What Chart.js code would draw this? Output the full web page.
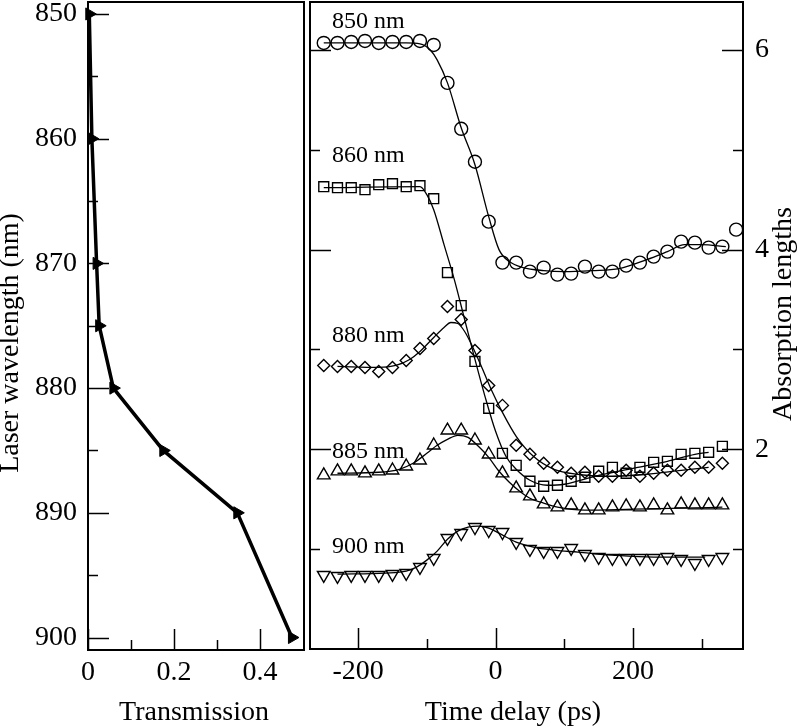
<!DOCTYPE html>
<html>
<head>
<meta charset="utf-8">
<script src="https://cdn.jsdelivr.net/npm/chart.js@4.4.0/dist/chart.umd.min.js"></script>
<style>
  body { margin: 0; background: #fff; width: 800px; height: 728px; position: relative; overflow: hidden; }
  canvas { position: absolute; top: 0; }
  #left { left: 0; }
  #right { left: 305px; }
</style>
</head>
<body>
<canvas id="left" width="308" height="728"></canvas>
<canvas id="right" width="495" height="728"></canvas>
<script>
// ---- left panel: transmission vs laser wavelength
const wavelengths = [850, 860, 870, 875, 880, 885, 890, 900];
const transmission = [0.003, 0.009, 0.02, 0.026, 0.059, 0.175, 0.347, 0.474];
const wlTicks = [850, 860, 870, 880, 890, 900];
const wlMinor = [855, 865, 875, 885, 895];
const trTicks = [0, 0.2, 0.4];
const trMinor = [0.1, 0.3];

// ---- right panel: measured points every 20 ps
const delays = [-250, -230, -210, -190, -170, -150, -130, -110, -90, -70, -50, -30, -10, 10, 30,
  50, 70, 90, 110, 130, 150, 170, 190, 210, 230, 250, 270, 290, 310, 330, 350];
const abs850 = [6.07, 6.07, 6.08, 6.09, 6.07, 6.08, 6.08, 6.09, 6.05, 5.67, 5.21, 4.88, 4.28, 3.87, 3.87,
  3.78, 3.82, 3.75, 3.76, 3.83, 3.78, 3.78, 3.84, 3.87, 3.93, 3.98, 4.08, 4.07, 4.02, 4.03, 4.2];
const abs860 = [4.63, 4.62, 4.62, 4.60, 4.65, 4.66, 4.63, 4.64, 4.51, 3.77, 3.44, 2.88, 2.41, 1.96, 1.84,
  1.68, 1.63, 1.64, 1.68, 1.72, 1.78, 1.82, 1.76, 1.82, 1.87, 1.88, 1.95, 1.96, 1.97, 2.03];
const abs880 = [2.84, 2.83, 2.83, 2.82, 2.78, 2.82, 2.89, 3.01, 3.11, 3.43, 3.30, 2.99, 2.64, 2.44, 2.04,
  1.95, 1.86, 1.82, 1.76, 1.77, 1.73, 1.73, 1.79, 1.73, 1.76, 1.79, 1.79, 1.82, 1.82, 1.86];
const abs885 = [1.74, 1.78, 1.78, 1.76, 1.78, 1.79, 1.83, 1.89, 2.04, 2.19, 2.19, 2.09, 1.95, 1.76, 1.61,
  1.53, 1.45, 1.42, 1.44, 1.39, 1.39, 1.42, 1.43, 1.42, 1.44, 1.39, 1.45, 1.44, 1.44, 1.44];
const abs900 = [0.74, 0.73, 0.74, 0.74, 0.74, 0.75, 0.76, 0.82, 0.91, 1.11, 1.16, 1.22, 1.19, 1.17, 1.07,
  1.00, 0.98, 0.98, 1.01, 0.95, 0.92, 0.91, 0.91, 0.91, 0.91, 0.92, 0.90, 0.86, 0.90, 0.92];

// ---- right panel: fitted curves
const fit850T = [-250, -130, -110, -95, -85, -70, -50, -30, -10, 5, 20, 40, 70, 100, 140, 180, 220, 250, 275, 300, 335];
const fit850Y = [6.07, 6.07, 6.06, 6.0, 5.9, 5.67, 5.22, 4.85, 4.33, 4.0, 3.88, 3.82, 3.79, 3.78, 3.79, 3.81, 3.9, 3.98, 4.05, 4.05, 4.03];
const fit860T = [-250, -110, -100, -90, -75, -60, -45, -30, -15, 0, 15, 30, 50, 75, 100, 150, 200, 250, 290, 310];
const fit860Y = [4.62, 4.63, 4.55, 4.4, 4.05, 3.7, 3.3, 2.9, 2.52, 2.18, 1.93, 1.8, 1.69, 1.64, 1.65, 1.74, 1.81, 1.88, 1.95, 1.97];
const fit880T = [-230, -170, -145, -125, -110, -90, -75, -65, -55, -45, -33, -20, -5, 10, 30, 55, 85, 120, 170, 220, 270, 310];
const fit880Y = [2.83, 2.82, 2.84, 2.9, 2.98, 3.12, 3.22, 3.27, 3.26, 3.18, 3.02, 2.82, 2.58, 2.37, 2.13, 1.93, 1.8, 1.75, 1.73, 1.75, 1.79, 1.82];
const fit885T = [-230, -170, -140, -120, -100, -85, -70, -55, -40, -25, -10, 5, 20, 35, 50, 70, 90, 130, 200, 270, 330];
const fit885Y = [1.76, 1.77, 1.8, 1.86, 1.96, 2.04, 2.1, 2.14, 2.12, 2.03, 1.92, 1.78, 1.67, 1.58, 1.51, 1.46, 1.42, 1.39, 1.4, 1.41, 1.42];
const fit900T = [-230, -160, -130, -115, -100, -85, -70, -55, -40, -25, -10, 5, 30, 55, 85, 120, 170, 230, 305];
const fit900Y = [0.75, 0.76, 0.78, 0.82, 0.89, 0.98, 1.1, 1.18, 1.22, 1.23, 1.21, 1.16, 1.07, 1.02, 0.99, 0.97, 0.94, 0.92, 0.92];

const delayTicks = [-200, 0, 200];
const delayMinor = [-100, 100, 300];
const absTicks = [2, 4, 6];
const absMinor = [1, 3, 5];

const seriesNames = ['850 nm', '860 nm', '880 nm', '885 nm', '900 nm'];

const FONT = '"Liberation Serif", "Times New Roman", serif';

// frame, inward ticks, titles and curve labels
const frame = {
  id: 'frame',
  afterDraw(chart, args, opts) {
    const { ctx, chartArea: a } = chart;
    ctx.save();
    ctx.strokeStyle = '#000';
    ctx.lineWidth = 2;
    ctx.strokeRect(a.left, a.top, a.right - a.left, a.bottom - a.top);
    ctx.lineWidth = 1.5;
    opts.ticks.forEach(t => {
      const scale = chart.scales[t.scale];
      const mark = (v, len) => {
        const p = Math.round(scale.getPixelForValue(v)) + 0.5;
        ctx.beginPath();
        if (t.edge === 'bottom') { ctx.moveTo(p, a.bottom); ctx.lineTo(p, a.bottom - len); }
        else if (t.edge === 'left') { ctx.moveTo(a.left, p); ctx.lineTo(a.left + len, p); }
        else { ctx.moveTo(a.right, p); ctx.lineTo(a.right - len, p); }
        ctx.stroke();
      };
      t.major.forEach(v => mark(v, 21));
      t.minor.forEach(v => mark(v, 10));
    });
    ctx.fillStyle = '#000';
    ctx.font = '28px ' + FONT;
    ctx.textAlign = 'center';
    ctx.textBaseline = 'middle';
    opts.titles.forEach(t => {
      ctx.save();
      ctx.translate(t.x, t.y);
      if (t.rotate) ctx.rotate(-Math.PI / 2);
      ctx.fillText(t.text, 0, 0);
      ctx.restore();
    });
    if (opts.notes) {
      ctx.font = '24px ' + FONT;
      ctx.textAlign = 'left';
      ctx.textBaseline = 'alphabetic';
      opts.notes.forEach(n => {
        ctx.fillText(n.text, chart.scales.x.getPixelForValue(n.t), chart.scales.y.getPixelForValue(n.v));
      });
    }
    ctx.restore();
  }
};

const tickFont = { family: FONT, size: 28 };
const fixed = list => scale => { scale.ticks = list.map(v => ({ value: v })); };
// fixed box size, and no extra room for the end labels
const boxSize = (w, h) => s => {
  if (w) s.width = w;
  if (h) s.height = h;
  s.paddingTop = s.paddingBottom = s.paddingLeft = s.paddingRight = 0;
};

new Chart(document.getElementById('left'), {
  type: 'scatter',
  data: {
    datasets: [{
      data: wavelengths.map((w, i) => ({ x: transmission[i], y: w })),
      showLine: true,
      borderColor: '#000',
      borderWidth: 3.5,
      pointStyle: 'triangle',
      pointRotation: 90,
      pointRadius: 7,
      pointBackgroundColor: '#000',
      pointBorderColor: '#000',
      pointBorderWidth: 1,
      clip: false
    }]
  },
  options: {
    responsive: false,
    animation: false,
    events: [],
    layout: { autoPadding: false, padding: { top: 2, right: 4, left: 0, bottom: 0 } },
    plugins: {
      legend: { display: false },
      tooltip: { enabled: false },
      frame: {
        ticks: [
          { scale: 'y', edge: 'left', major: wlTicks, minor: wlMinor },
          { scale: 'x', edge: 'bottom', major: trTicks, minor: trMinor }
        ],
        titles: [
          { text: 'Laser wavelength (nm)', x: 11, y: 343, rotate: true },
          { text: 'Transmission', x: 194, y: 713 }
        ]
      }
    },
    scales: {
      x: {
        type: 'linear', min: 0, max: 0.502,
        grid: { display: false, drawTicks: false }, border: { display: false },
        afterBuildTicks: fixed(trTicks),
        afterFit: boxSize(0, 78),
        ticks: { font: tickFont, color: '#000', padding: 6, maxRotation: 0, autoSkip: false, callback: v => String(v) }
      },
      y: {
        type: 'linear', reverse: true, min: 849.04, max: 901,
        grid: { display: false, drawTicks: false }, border: { display: false },
        afterBuildTicks: fixed(wlTicks),
        afterFit: boxSize(88, 0),
        ticks: { font: tickFont, color: '#000', padding: 11, autoSkip: false, callback: v => String(v) }
      }
    }
  },
  plugins: [frame]
});

const markers = (vals, style, radius, rot) => ({
  data: vals.map((v, i) => ({ x: delays[i], y: v })),
  showLine: false,
  pointStyle: style,
  pointRadius: radius,
  pointRotation: rot || 0,
  pointBackgroundColor: 'rgba(0,0,0,0)',
  pointBorderColor: '#000',
  pointBorderWidth: 1.4,
  clip: false
});
const fit = (ts, ys) => ({
  data: ts.map((t, i) => ({ x: t, y: ys[i] })),
  showLine: true,
  borderColor: '#000',
  borderWidth: 1.3,
  pointRadius: 0,
  cubicInterpolationMode: 'monotone'
});

new Chart(document.getElementById('right'), {
  type: 'scatter',
  data: {
    datasets: [
      fit(fit850T, fit850Y), fit(fit860T, fit860Y), fit(fit880T, fit880Y),
      fit(fit885T, fit885Y), fit(fit900T, fit900Y),
      markers(abs850, 'circle', 6.5),
      markers(abs860, 'rect', 7),
      markers(abs880, 'rectRot', 6),
      markers(abs885, 'triangle', 7.3),
      markers(abs900, 'triangle', 7.3, 180)
    ]
  },
  options: {
    responsive: false,
    animation: false,
    events: [],
    layout: { autoPadding: false, padding: { top: 2, right: 0, left: 5, bottom: 0 } },
    plugins: {
      legend: { display: false },
      tooltip: { enabled: false },
      frame: {
        ticks: [
          { scale: 'y', edge: 'right', major: absTicks, minor: absMinor },
          { scale: 'y', edge: 'left', major: absTicks, minor: absMinor },
          { scale: 'x', edge: 'bottom', major: delayTicks, minor: delayMinor }
        ],
        titles: [
          { text: 'Absorption lengths', x: 479, y: 314, rotate: true },
          { text: 'Time delay (ps)', x: 208, y: 713 }
        ],
        notes: [
          { text: seriesNames[0], t: -238, v: 6.22 },
          { text: seriesNames[1], t: -238, v: 4.88 },
          { text: seriesNames[2], t: -238, v: 3.07 },
          { text: seriesNames[3], t: -238, v: 1.91 },
          { text: seriesNames[4], t: -238, v: 0.96 }
        ]
      }
    },
    scales: {
      x: {
        type: 'linear', min: -270, max: 360,
        grid: { display: false, drawTicks: false }, border: { display: false },
        afterBuildTicks: fixed(delayTicks),
        afterFit: boxSize(0, 79),
        ticks: { font: tickFont, color: '#000', padding: 6, maxRotation: 0, autoSkip: false, callback: v => String(v) }
      },
      y: {
        type: 'linear', position: 'right', min: 0, max: 6.48,
        grid: { display: false, drawTicks: false }, border: { display: false },
        afterBuildTicks: fixed(absTicks),
        afterFit: boxSize(57, 0),
        ticks: { font: tickFont, color: '#000', padding: 12, autoSkip: false, callback: v => String(v) }
      }
    }
  },
  plugins: [frame]
});
</script>
</body>
</html>
